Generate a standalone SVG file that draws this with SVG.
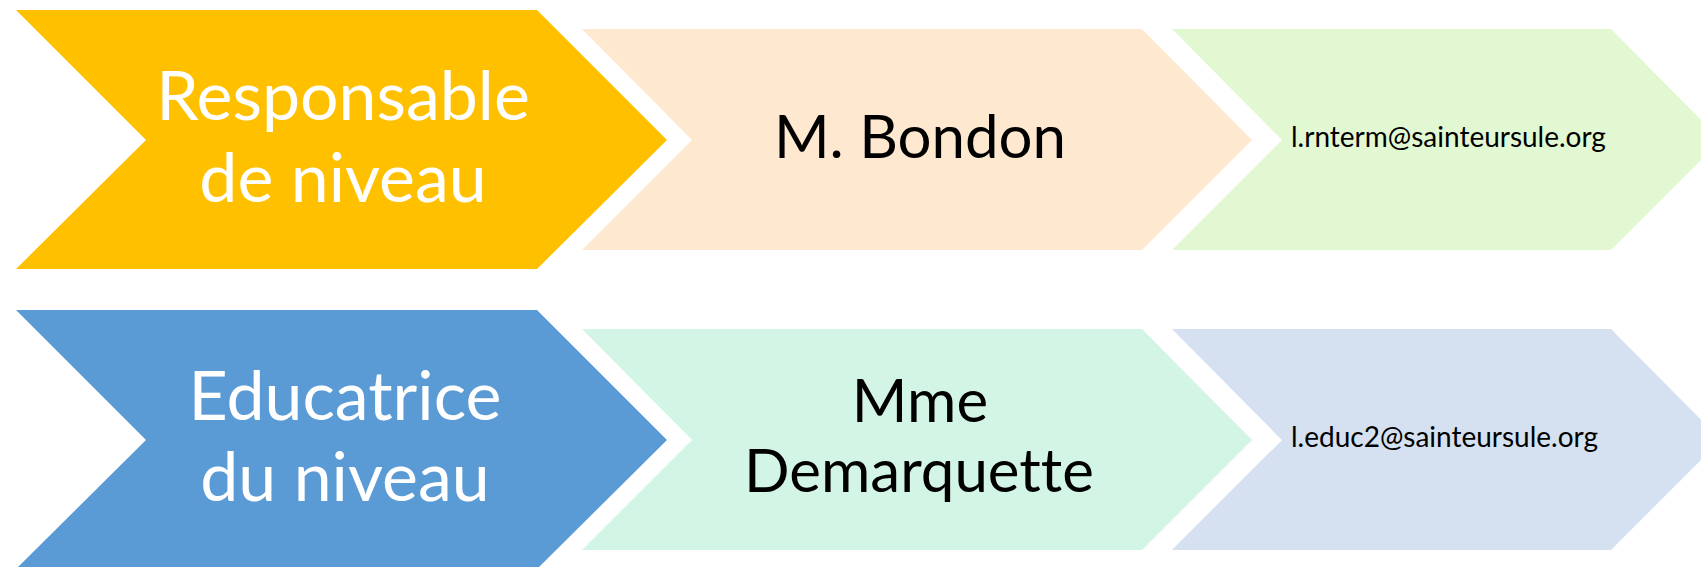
<svg xmlns="http://www.w3.org/2000/svg" width="1701" height="567" viewBox="0 0 1701 567">
  <style>
    .lbl { font-family: "Lato", "Open Sans", "Liberation Sans", sans-serif; text-anchor: middle; font-variant-ligatures: none; font-feature-settings: "liga" 0, "dlig" 0; }
    .big { font-size: 68px; fill: #FFFFFF; }
    .name { font-size: 60px; fill: #000000; }
    .mail { font-size: 28px; fill: #000000; text-anchor: start; }
  </style>
  <defs>
    <path id="chev1" d="M16,10 L537,10 L667,140 L537,269 L16,269 L146,140 Z"/>
    <path id="chev2" d="M582,29 L1142,29 L1252,140 L1142,250 L582,250 L692,140 Z"/>
    <path id="chev3" d="M1172,29 L1611,29 L1721,140 L1611,250 L1172,250 L1282,140 Z"/>
  </defs>
  <rect width="1701" height="567" fill="#FFFFFF"/>
  <g id="connectors"/>
  <g id="node-responsable">
    <use href="#chev1" fill="#FFC000"/>
    <text class="lbl big" x="343" y="120">Responsable</text>
    <text class="lbl big" x="343" y="202">de niveau</text>
  </g>
  <g id="node-bondon">
    <use href="#chev2" fill="#FEE8CF"/>
    <text class="lbl name" x="920" y="158">M. Bondon</text>
  </g>
  <g id="node-mail1">
    <use href="#chev3" fill="#E2F8D3"/>
    <text class="lbl mail" x="1291" y="147">l.rnterm@sainteursule.org</text>
  </g>
  <g id="node-educatrice" transform="translate(0,300)">
    <use href="#chev1" fill="#5B9BD5"/>
    <text class="lbl big" x="345" y="120">Educatrice</text>
    <text class="lbl big" x="345" y="201">du niveau</text>
  </g>
  <g id="node-demarquette" transform="translate(0,300)">
    <use href="#chev2" fill="#D3F5E6"/>
    <text class="lbl name" x="920" y="122">Mme</text>
    <text class="lbl name" x="919" y="192">Demarquette</text>
  </g>
  <g id="node-mail2" transform="translate(0,300)">
    <use href="#chev3" fill="#D5E0F0"/>
    <text class="lbl mail" x="1291" y="147">l.educ2@sainteursule.org</text>
  </g>
</svg>
